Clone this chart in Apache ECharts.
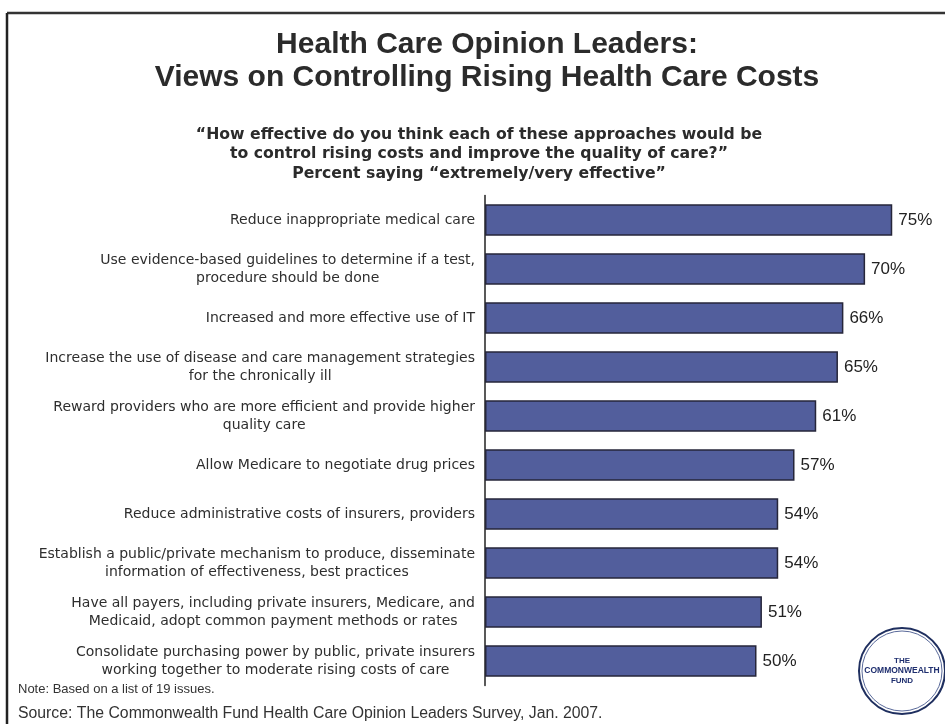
<!DOCTYPE html>
<html>
<head>
<meta charset="utf-8">
<script src="https://cdn.jsdelivr.net/npm/echarts@6/dist/echarts.min.js"></script>
<style>
html,body{margin:0;padding:0;background:#fff;}
#chart{width:945px;height:724px;}
</style>
</head>
<body>
<div id="chart"></div>
<script>
const categories = [
  'Reduce inappropriate medical care',
  'Use evidence-based guidelines to determine if a test,\nprocedure should be done',
  'Increased and more effective use of IT',
  'Increase the use of disease and care management strategies\nfor the chronically ill',
  'Reward providers who are more efficient and provide higher\nquality care',
  'Allow Medicare to negotiate drug prices',
  'Reduce administrative costs of insurers, providers',
  'Establish a public/private mechanism to produce, disseminate\ninformation of effectiveness, best practices',
  'Have all payers, including private insurers, Medicare, and\nMedicaid, adopt common payment methods or rates',
  'Consolidate purchasing power by public, private insurers\nworking together to moderate rising costs of care'
];
const values = [75, 70, 66, 65, 61, 57, 54, 54, 51, 50];
const titleText = 'Health Care Opinion Leaders:\nViews on Controlling Rising Health Care Costs';
const subtitleText = '\u201CHow effective do you think each of these approaches would be\nto control rising costs and improve the quality of care?\u201D\nPercent saying \u201Cextremely/very effective\u201D';
const noteText = 'Note: Based on a list of 19 issues.';
const sourceText = 'Source: The Commonwealth Fund Health Care Opinion Leaders Survey, Jan. 2007.';
const logoLines = ['THE', 'COMMONWEALTH', 'FUND'];

const chart = echarts.init(document.getElementById('chart'), null, {renderer: 'canvas'});
const font = '"Liberation Sans", Arial, sans-serif';
const wide = '"DejaVu Sans", sans-serif';

const option = {
  backgroundColor: '#ffffff',
  animation: false,
  title: [
    {
      text: titleText,
      left: 482,
      textAlign: 'center',
      top: 23.5,
      textStyle: {fontFamily: font, fontSize: 30, fontWeight: 'bold', color: '#2b2b2b', lineHeight: 33}
    },
    {
      text: subtitleText,
      left: 474,
      textAlign: 'center',
      top: 120,
      textStyle: {fontFamily: wide, fontSize: 15.7, fontWeight: 'bold', color: '#2b2b2b', lineHeight: 19.5}
    }
  ],
  grid: {left: 485, right: 25.6, top: 195.5, bottom: 38.5, containLabel: false},
  xAxis: {
    type: 'value',
    min: 0,
    max: 80,
    show: false
  },
  yAxis: {
    type: 'category',
    data: categories,
    inverse: true,
    axisLine: {show: true, lineStyle: {color: '#222', width: 1.5}},
    axisTick: {show: false},
    axisLabel: {
      margin: 10,
      fontFamily: wide,
      fontSize: 14,
      color: '#2e2e2e',
      lineHeight: 18,
      formatter: function (v) {
        return v.split('\n').map(function (l) { return '{c|' + l + '}'; }).join('\n');
      },
      rich: {c: {align: 'center', fontFamily: wide, fontSize: 14, color: '#2e2e2e', lineHeight: 18}}
    },
    splitLine: {show: false}
  },
  series: [{
    type: 'bar',
    data: values,
    barCategoryGap: '36%',
    itemStyle: {color: '#525e9c', borderColor: '#26263a', borderWidth: 1.5},
    label: {
      show: true,
      position: 'right',
      distance: 6,
      formatter: '{c}%',
      fontFamily: font,
      fontSize: 17,
      color: '#222'
    }
  }],
  graphic: [
    {type: 'line', shape: {x1: 7, y1: 13, x2: 945, y2: 13}, style: {stroke: '#333', lineWidth: 2.5}},
    {type: 'line', shape: {x1: 7, y1: 13, x2: 7, y2: 724}, style: {stroke: '#222', lineWidth: 2.5}},
    {type: 'text', left: 18, top: 683, style: {text: noteText, font: '13px ' + font, fill: '#333'}},
    {type: 'text', left: 18, top: 706, style: {text: sourceText, font: '15.8px ' + font, fill: '#333'}},
    {type: 'circle', shape: {cx: 902, cy: 671, r: 43}, style: {fill: '#fff', stroke: '#1f2f5f', lineWidth: 2}},
    {type: 'circle', shape: {cx: 902, cy: 671, r: 40}, style: {fill: 'none', stroke: '#5a6a9a', lineWidth: 1}},
    {type: 'text', x: 902, y: 661, style: {text: logoLines[0], font: 'bold 8px ' + font, fill: '#1f2f6f', align: 'center', verticalAlign: 'middle'}},
    {type: 'text', x: 902, y: 671, style: {text: logoLines[1], font: 'bold 8.5px ' + font, fill: '#1f2f6f', align: 'center', verticalAlign: 'middle'}},
    {type: 'text', x: 902, y: 681, style: {text: logoLines[2], font: 'bold 8px ' + font, fill: '#1f2f6f', align: 'center', verticalAlign: 'middle'}}
  ]
};
chart.setOption(option);
</script>
</body>
</html>
